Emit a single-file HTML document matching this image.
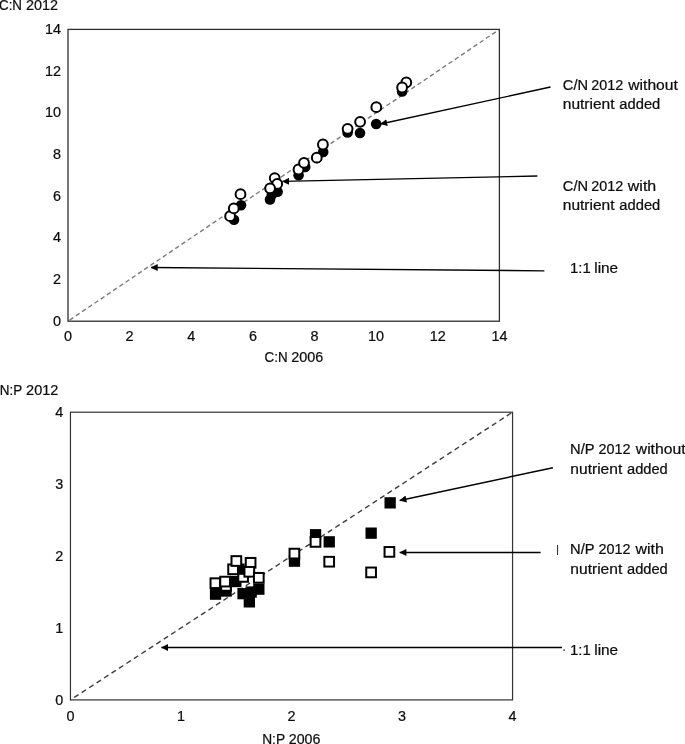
<!DOCTYPE html>
<html lang="en"><head><meta charset="utf-8"><title>C:N and N:P 2012 vs 2006</title>
<style>html,body{margin:0;padding:0;background:#fff}body{width:685px;height:744px;overflow:hidden}svg{display:block}text{font-family:"Liberation Sans",Arial,sans-serif;font-size:14.2px;fill:#0d0d0d;stroke:#0d0d0d;stroke-width:0.22px}.tk text{font-size:14.4px}</style>
</head><body>
<svg width="685" height="744" viewBox="0 0 685 744">
<rect x="0" y="0" width="685" height="744" fill="#fff"/>
<defs><marker id="ah" viewBox="0 0 7 7" refX="6.7" refY="3.5" markerWidth="7.2" markerHeight="7" markerUnits="userSpaceOnUse" orient="auto"><path d="M0,0 L7,3.5 L0,7 Z" fill="#000"/></marker></defs>
<line x1="68.0" y1="321.2" x2="499.4" y2="29.4" stroke="#7c7c7c" stroke-width="1.4" stroke-dasharray="4.5 3" stroke-dashoffset="-2"/>
<rect x="68.0" y="29.4" width="431.4" height="291.8" fill="none" stroke="#303030" stroke-width="1.3"/>
<g class="tk">
<text x="61.0" y="325.8" text-anchor="end">0</text>
<text x="68.0" y="340.7" text-anchor="middle">0</text>
<text x="61.0" y="284.1" text-anchor="end">2</text>
<text x="129.6" y="340.7" text-anchor="middle">2</text>
<text x="61.0" y="242.4" text-anchor="end">4</text>
<text x="191.3" y="340.7" text-anchor="middle">4</text>
<text x="61.0" y="200.7" text-anchor="end">6</text>
<text x="252.9" y="340.7" text-anchor="middle">6</text>
<text x="61.0" y="159.1" text-anchor="end">8</text>
<text x="314.5" y="340.7" text-anchor="middle">8</text>
<text x="61.0" y="117.4" text-anchor="end">10</text>
<text x="376.1" y="340.7" text-anchor="middle">10</text>
<text x="61.0" y="75.7" text-anchor="end">12</text>
<text x="437.8" y="340.7" text-anchor="middle">12</text>
<text x="61.0" y="34.0" text-anchor="end">14</text>
<text x="499.4" y="340.7" text-anchor="middle">14</text>
</g>
<g fill="#000">
<circle cx="234" cy="219.8" r="5.3"/>
<circle cx="241" cy="205.2" r="5.3"/>
<circle cx="270" cy="199.5" r="5.3"/>
<circle cx="271.9" cy="194.5" r="5.3"/>
<circle cx="277.6" cy="191.7" r="5.3"/>
<circle cx="298.6" cy="175.3" r="5.3"/>
<circle cx="305.2" cy="167" r="5.3"/>
<circle cx="316.8" cy="157.9" r="5.3"/>
<circle cx="323.2" cy="152" r="5.3"/>
<circle cx="347.6" cy="132.4" r="5.3"/>
<circle cx="360" cy="133" r="5.3"/>
<circle cx="376.2" cy="124.0" r="5.3"/>
<circle cx="402.1" cy="91.5" r="5.3"/>
<circle cx="406.3" cy="82.8" r="5.3"/>
</g><g fill="#fff" stroke="#000" stroke-width="2">
<circle cx="230.1" cy="216.2" r="4.9"/>
<circle cx="233.8" cy="208.4" r="4.9"/>
<circle cx="240.5" cy="194.2" r="4.9"/>
<circle cx="274.7" cy="178.1" r="4.9"/>
<circle cx="277.2" cy="183.9" r="4.9"/>
<circle cx="270.1" cy="188.3" r="4.9"/>
<circle cx="298.5" cy="169.5" r="4.9"/>
<circle cx="304.0" cy="162.8" r="4.9"/>
<circle cx="316.8" cy="157.7" r="4.9"/>
<circle cx="322.9" cy="144.5" r="4.9"/>
<circle cx="347.6" cy="128.8" r="4.9"/>
<circle cx="360.1" cy="121.8" r="4.9"/>
<circle cx="376.3" cy="107.2" r="4.9"/>
<circle cx="406.3" cy="82.4" r="4.9"/>
<circle cx="402.1" cy="87.5" r="4.9"/>
</g>
<g stroke="#000" stroke-width="1.3" fill="none">
<line x1="550.5" y1="87.0" x2="380.5" y2="124.0" marker-end="url(#ah)"/>
<line x1="537.4" y1="176" x2="282.4" y2="181.4" marker-end="url(#ah)"/>
<line x1="544.4" y1="270.8" x2="151" y2="267.5" marker-end="url(#ah)"/>
</g>
<line x1="70.45" y1="699.9" x2="512.5" y2="412.2" stroke="#3c3c3c" stroke-width="1.4" stroke-dasharray="5.2 3.7" stroke-dashoffset="-4.5"/>
<rect x="70.45" y="412.2" width="442.1" height="287.7" fill="none" stroke="#333" stroke-width="1.2"/>
<g class="tk">
<text x="63.2" y="705.0" text-anchor="end">0</text>
<text x="70.5" y="720.6" text-anchor="middle">0</text>
<text x="63.2" y="633.1" text-anchor="end">1</text>
<text x="181.0" y="720.6" text-anchor="middle">1</text>
<text x="63.2" y="561.1" text-anchor="end">2</text>
<text x="291.5" y="720.6" text-anchor="middle">2</text>
<text x="63.2" y="489.2" text-anchor="end">3</text>
<text x="402.0" y="720.6" text-anchor="middle">3</text>
<text x="63.2" y="417.3" text-anchor="end">4</text>
<text x="512.5" y="720.6" text-anchor="middle">4</text>
</g>
<g>
<rect x="209.9" y="588.5" width="11.3" height="11.3" fill="#000"/>
<rect x="220.4" y="585.4" width="11.3" height="11.3" fill="#000"/>
<rect x="230.2" y="575.9" width="11.3" height="11.3" fill="#000"/>
<rect x="243.7" y="596.2" width="11.3" height="11.3" fill="#000"/>
<rect x="237.4" y="588.0" width="11.3" height="11.3" fill="#000"/>
<rect x="245.5" y="586.4" width="11.3" height="11.3" fill="#000"/>
<rect x="253.2" y="583.5" width="11.3" height="11.3" fill="#000"/>
<rect x="288.8" y="555.5" width="11.3" height="11.3" fill="#000"/>
<rect x="309.9" y="529.1" width="11.3" height="11.3" fill="#000"/>
<rect x="323.6" y="536.2" width="11.3" height="11.3" fill="#000"/>
<rect x="365.5" y="527.5" width="11.3" height="11.3" fill="#000"/>
<rect x="384.5" y="497.2" width="11.3" height="11.3" fill="#000"/>
<rect x="238.25" y="572.05" width="9.7" height="9.7" fill="#fff" stroke="#000" stroke-width="2"/>
<rect x="233.4" y="563.5" width="11.3" height="11.3" fill="#000"/>
<rect x="221.15" y="581.05" width="9.7" height="9.7" fill="#fff" stroke="#000" stroke-width="2"/>
<rect x="228.25" y="564.45" width="9.7" height="9.7" fill="#fff" stroke="#000" stroke-width="2"/>
<rect x="231.50" y="556.15" width="9.7" height="9.7" fill="#fff" stroke="#000" stroke-width="2"/>
<rect x="245.75" y="557.95" width="9.7" height="9.7" fill="#fff" stroke="#000" stroke-width="2"/>
<rect x="244.45" y="566.95" width="9.7" height="9.7" fill="#fff" stroke="#000" stroke-width="2"/>
<rect x="253.95" y="572.95" width="9.7" height="9.7" fill="#fff" stroke="#000" stroke-width="2"/>
<rect x="210.55" y="578.35" width="9.7" height="9.7" fill="#fff" stroke="#000" stroke-width="2"/>
<rect x="220.25" y="576.75" width="9.7" height="9.7" fill="#fff" stroke="#000" stroke-width="2"/>
<rect x="289.55" y="548.75" width="9.7" height="9.7" fill="#fff" stroke="#000" stroke-width="2"/>
<rect x="310.65" y="537.05" width="9.7" height="9.7" fill="#fff" stroke="#000" stroke-width="2"/>
<rect x="324.35" y="556.85" width="9.7" height="9.7" fill="#fff" stroke="#000" stroke-width="2"/>
<rect x="366.25" y="567.55" width="9.7" height="9.7" fill="#fff" stroke="#000" stroke-width="2"/>
<rect x="384.55" y="547.05" width="9.7" height="9.7" fill="#fff" stroke="#000" stroke-width="2"/>
</g>
<g stroke="#000" stroke-width="1.5" fill="none">
<line x1="552.9" y1="467.8" x2="399.7" y2="500.4" marker-end="url(#ah)"/>
<line x1="540.6" y1="552.5" x2="399.7" y2="552.5" marker-end="url(#ah)"/>
<line x1="562" y1="647.5" x2="161.4" y2="647.5" marker-end="url(#ah)"/>
</g>
<line x1="557.6" y1="545.0" x2="557.6" y2="555.0" stroke="#222" stroke-width="1"/>
<line x1="563.2" y1="650.2" x2="565" y2="650.2" stroke="#333" stroke-width="1.2"/>
<text y="10.1"><tspan x="-1.01" textLength="23.03" lengthAdjust="spacingAndGlyphs">C:N</tspan> <tspan x="26.04" textLength="31.98" lengthAdjust="spacingAndGlyphs">2012</tspan></text>
<text y="361.7"><tspan x="264.59" textLength="23.03" lengthAdjust="spacingAndGlyphs">C:N</tspan> <tspan x="291.34" textLength="31.93" lengthAdjust="spacingAndGlyphs">2006</tspan></text>
<text y="90.1"><tspan x="562.83" textLength="25.20" lengthAdjust="spacingAndGlyphs">C/N</tspan> <tspan x="591.24" textLength="31.88" lengthAdjust="spacingAndGlyphs">2012</tspan> <tspan x="628.30" textLength="49.52" lengthAdjust="spacingAndGlyphs" font-size="13.8">without</tspan></text>
<text y="109.4"><tspan x="562.81" textLength="51.78" lengthAdjust="spacingAndGlyphs" font-size="13.8">nutrient</tspan> <tspan x="619.38" textLength="40.91" lengthAdjust="spacingAndGlyphs" font-size="13.8">added</tspan></text>
<text y="190.6"><tspan x="562.83" textLength="25.20" lengthAdjust="spacingAndGlyphs">C/N</tspan> <tspan x="591.24" textLength="31.88" lengthAdjust="spacingAndGlyphs">2012</tspan> <tspan x="627.80" textLength="28.41" lengthAdjust="spacingAndGlyphs" font-size="13.8">with</tspan></text>
<text y="209.7"><tspan x="562.81" textLength="51.78" lengthAdjust="spacingAndGlyphs" font-size="13.8">nutrient</tspan> <tspan x="619.38" textLength="40.91" lengthAdjust="spacingAndGlyphs" font-size="13.8">added</tspan></text>
<text y="273.2"><tspan x="570.05" textLength="20.72" lengthAdjust="spacingAndGlyphs">1:1</tspan> <tspan x="594.22" textLength="23.93" lengthAdjust="spacingAndGlyphs" font-size="13.8">line</tspan></text>
<text y="394.5"><tspan x="-0.27" textLength="22.19" lengthAdjust="spacingAndGlyphs">N:P</tspan> <tspan x="26.13" textLength="32.19" lengthAdjust="spacingAndGlyphs">2012</tspan></text>
<text y="743.5"><tspan x="262.20" textLength="22.62" lengthAdjust="spacingAndGlyphs">N:P</tspan> <tspan x="288.75" textLength="31.61" lengthAdjust="spacingAndGlyphs">2006</tspan></text>
<text y="454.3"><tspan x="570.02" textLength="24.25" lengthAdjust="spacingAndGlyphs">N/P</tspan> <tspan x="598.54" textLength="32.09" lengthAdjust="spacingAndGlyphs">2012</tspan> <tspan x="635.80" textLength="49.72" lengthAdjust="spacingAndGlyphs" font-size="13.8">without</tspan></text>
<text y="473.7"><tspan x="570.30" textLength="51.98" lengthAdjust="spacingAndGlyphs" font-size="13.8">nutrient</tspan> <tspan x="626.98" textLength="40.80" lengthAdjust="spacingAndGlyphs" font-size="13.8">added</tspan></text>
<text y="554.4"><tspan x="570.02" textLength="24.25" lengthAdjust="spacingAndGlyphs">N/P</tspan> <tspan x="598.54" textLength="32.09" lengthAdjust="spacingAndGlyphs">2012</tspan> <tspan x="635.40" textLength="28.41" lengthAdjust="spacingAndGlyphs" font-size="13.8">with</tspan></text>
<text y="573.9"><tspan x="570.30" textLength="51.98" lengthAdjust="spacingAndGlyphs" font-size="13.8">nutrient</tspan> <tspan x="626.98" textLength="40.80" lengthAdjust="spacingAndGlyphs" font-size="13.8">added</tspan></text>
<text y="654.6"><tspan x="570.05" textLength="20.72" lengthAdjust="spacingAndGlyphs">1:1</tspan> <tspan x="594.22" textLength="23.93" lengthAdjust="spacingAndGlyphs" font-size="13.8">line</tspan></text>
</svg></body></html>
